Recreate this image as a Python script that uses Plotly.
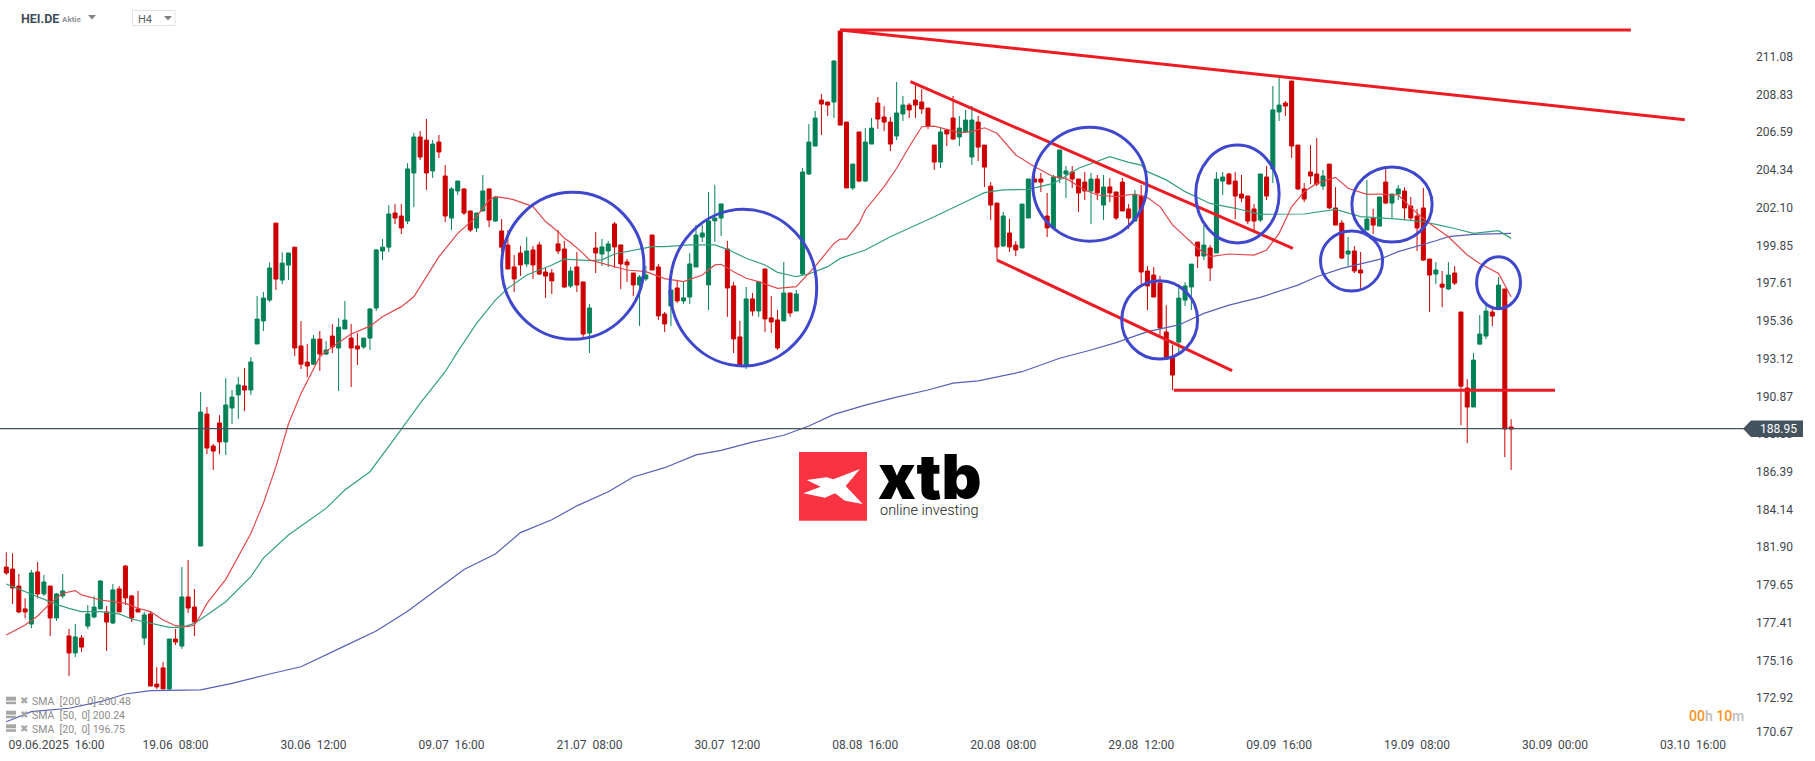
import plotly.graph_objects as go

# H4 candles
opens = [
    180.72,180.60,179.59,178.23,177.33,180.43,179.12,179.59,177.69,179.00,
    176.62,175.61,176.50,177.21,177.75,178.23,178.05,177.39,179.42,180.78,
    179.00,178.23,176.50,177.93,173.76,174.72,173.47,176.44,176.02,178.94,
    178.34,181.97,189.82,187.92,189.29,188.16,190.18,190.96,191.49,191.25,
    193.99,195.36,196.60,201.18,197.79,198.68,199.75,193.87,192.91,192.79,
    194.28,193.39,194.46,193.75,194.88,194.34,193.87,193.81,194.34,196.13,
    199.52,199.75,201.78,201.60,201.30,204.16,206.30,206.12,204.28,206.00,
    203.98,201.48,203.09,203.21,201.90,200.89,201.90,203.21,201.30,200.71,
    199.87,198.57,199.40,198.75,199.58,199.88,198.27,198.21,199.94,199.64,
    197.44,198.57,197.68,194.64,199.70,199.34,199.52,201.13,199.88,198.87,
    198.21,197.50,197.86,200.47,198.57,195.77,196.25,197.32,196.55,196.78,
    198.57,200.35,197.50,201.31,201.48,199.64,197.44,194.41,192.74,196.67,
    195.95,198.45,195.54,195.42,195.36,197.02,195.95,198.15,204.10,205.76,
    208.50,208.38,208.38,212.61,207.19,203.27,206.60,203.68,205.88,208.32,
    207.49,207.19,206.36,207.67,208.20,208.50,208.38,208.02,205.82,204.81,
    206.72,207.43,206.30,206.60,205.11,207.19,205.82,203.38,202.37,199.82,
    200.59,199.87,199.70,201.48,203.80,203.80,201.60,200.89,203.86,204.10,
    204.22,203.80,203.62,203.09,203.80,202.25,203.33,203.03,203.62,202.02,
    201.30,202.79,198.33,198.09,197.61,194.70,193.21,194.10,196.60,197.38,
    200.05,199.22,199.70,199.40,203.68,204.10,203.68,202.91,202.79,202.02,
    201.36,203.92,204.40,207.79,208.32,209.63,205.82,203.21,204.22,204.10,
    203.38,204.69,202.08,201.18,199.34,199.52,198.39,200.77,201.48,201.00,
    203.62,202.37,202.91,203.09,202.19,201.60,202.08,199.04,198.15,197.55,
    197.26,198.21,195.89,191.37,190.24,193.98,194.46,195.89,196.07,197.26,189.05,
]
highs = [
    181.60,181.54,180.31,178.86,180.55,181.02,180.25,179.59,179.18,180.31,
    177.04,177.33,176.68,178.46,179.00,179.95,178.40,179.71,179.59,180.84,
    179.06,179.30,178.05,178.05,174.77,175.07,176.44,177.04,180.72,181.14,
    179.42,191.13,190.24,188.04,189.76,191.96,191.25,192.02,192.56,193.21,
    196.84,197.08,198.84,201.18,199.44,199.40,199.75,195.35,193.98,194.52,
    194.76,194.16,195.17,195.53,196.54,195.17,194.64,194.34,196.13,199.64,
    200.23,202.25,202.31,202.31,204.75,206.54,206.66,207.37,206.12,206.42,
    204.63,203.32,203.68,203.26,201.90,201.78,204.04,203.26,202.73,201.42,
    200.77,199.28,199.82,200.35,199.82,200.06,198.51,198.45,200.77,200.12,
    198.57,199.46,197.68,196.37,200.65,200.24,200.12,201.25,199.88,199.05,
    198.21,198.09,198.63,200.47,198.75,195.89,197.20,197.80,197.68,199.40,
    201.07,201.07,203.03,203.45,202.32,200.12,197.68,195.36,197.38,197.02,
    197.74,198.45,196.84,196.01,198.87,197.02,197.20,204.46,207.07,207.85,
    208.86,208.38,210.88,212.61,207.19,204.69,206.60,206.83,207.43,208.68,
    208.14,207.49,209.57,208.74,208.32,209.39,209.15,208.02,205.82,206.83,
    206.72,208.74,207.55,207.91,208.14,207.55,205.82,203.62,202.37,201.84,
    201.42,200.11,202.31,203.80,204.57,204.16,202.97,204.04,205.53,204.57,
    204.57,203.80,204.22,204.16,204.04,204.04,203.86,203.03,203.86,202.31,
    203.15,203.44,198.63,198.57,198.03,196.30,193.93,197.55,197.67,198.74,
    200.05,201.06,199.87,204.22,204.22,204.16,204.22,204.04,202.79,202.31,
    204.10,204.57,209.33,209.81,208.44,209.63,205.82,203.56,205.82,206.24,
    204.34,204.69,203.32,201.36,200.35,199.81,199.46,203.74,202.02,202.73,
    204.40,202.91,203.44,203.32,202.73,202.02,203.27,199.04,198.86,198.33,
    198.86,198.62,195.89,191.90,193.45,195.71,196.30,196.07,197.97,197.26,189.52,
]
lows = [
    180.25,178.52,177.97,177.67,177.08,178.86,179.00,176.62,177.51,178.86,
    174.24,175.37,175.67,177.04,177.67,178.21,175.73,177.33,178.05,178.46,
    177.45,178.01,176.08,173.64,173.47,173.47,173.41,176.08,175.85,177.99,
    176.62,181.97,187.44,186.49,187.44,187.38,189.23,189.53,190.00,190.96,
    193.99,194.76,196.48,197.20,197.55,197.79,193.27,192.50,192.02,192.74,
    192.38,193.33,193.45,191.19,194.88,191.43,192.74,193.69,193.63,195.95,
    198.98,199.46,201.12,200.53,201.12,202.13,204.93,203.15,203.86,205.05,
    201.24,200.77,202.85,201.66,200.65,200.65,201.90,200.94,201.24,199.46,
    198.45,197.08,198.03,198.57,197.86,198.09,196.73,196.96,199.34,197.32,
    197.32,197.08,194.41,193.45,198.21,198.63,198.57,198.51,197.26,197.68,
    196.84,195.06,197.74,198.39,195.42,194.70,195.06,196.43,196.37,196.37,
    198.57,200.06,196.01,200.06,200.41,195.60,193.45,192.74,192.50,195.66,
    195.60,194.70,194.64,193.63,195.36,195.60,195.95,198.09,204.04,205.76,
    206.42,207.55,207.43,207.01,203.27,203.15,203.62,203.62,205.88,206.78,
    206.66,205.47,206.12,207.25,207.43,207.43,207.67,206.78,204.34,204.46,
    205.76,206.12,205.76,206.54,204.63,204.87,203.33,201.36,198.98,199.76,
    199.46,199.22,199.70,201.48,203.62,203.03,200.35,200.89,203.56,202.67,
    203.27,201.84,202.55,201.12,202.55,201.36,202.43,201.36,201.90,200.83,
    201.30,197.49,196.01,196.78,194.52,193.21,191.25,193.51,196.25,196.01,
    198.51,198.98,197.73,199.40,202.85,203.50,201.42,202.43,201.12,200.71,
    201.24,202.55,203.56,207.25,207.55,205.05,203.15,202.43,203.50,203.38,
    203.15,202.02,201.06,199.04,198.63,198.21,197.20,200.77,200.53,201.00,
    202.31,201.42,202.55,201.36,201.36,199.52,198.92,195.89,197.55,196.18,
    197.20,197.49,189.16,188.09,190.24,193.98,194.28,195.05,196.01,187.26,186.49,
]
closes = [
    180.37,179.47,178.05,178.05,180.37,179.12,179.83,177.69,179.12,179.30,
    175.61,176.56,175.96,177.93,178.34,179.89,177.45,179.36,178.05,178.88,
    177.69,178.05,177.87,173.64,173.59,173.47,176.44,176.26,178.94,178.28,
    177.45,189.94,187.80,187.62,188.16,190.36,190.83,191.55,191.25,192.92,
    195.47,196.72,198.51,197.85,198.80,199.40,193.75,192.79,192.68,194.28,
    193.39,193.63,193.81,194.99,195.41,193.75,193.69,194.34,196.07,199.58,
    199.75,201.72,201.48,200.89,204.40,206.30,205.11,204.16,205.88,205.41,
    201.60,203.21,203.68,201.78,200.77,201.78,203.09,201.36,202.73,199.75,
    198.45,197.86,198.69,199.52,198.69,198.15,198.03,197.74,199.52,197.38,
    198.33,197.50,194.58,196.13,199.40,199.76,199.94,199.76,198.75,198.69,
    197.50,197.97,198.09,198.39,195.66,195.18,197.20,196.55,196.73,198.75,
    200.47,200.59,201.31,201.48,202.32,197.32,194.29,192.74,196.67,195.95,
    197.68,195.48,195.30,193.75,197.02,195.83,196.96,204.22,206.00,207.43,
    208.26,208.20,210.82,207.01,203.27,204.69,203.68,206.00,206.83,207.37,
    207.19,205.88,207.73,208.20,207.91,208.20,207.97,206.95,204.81,206.60,
    206.48,206.18,206.83,207.31,207.31,205.70,204.51,202.25,199.76,201.60,
    199.76,199.58,202.31,203.80,203.62,203.62,200.89,203.92,205.53,204.28,
    203.80,202.97,203.09,203.80,202.97,203.33,202.97,201.48,201.90,201.48,
    202.85,198.27,197.44,196.78,194.94,193.21,192.14,196.72,197.44,198.74,
    199.22,199.87,198.51,203.80,203.92,203.50,202.79,202.67,201.30,201.30,
    204.10,202.79,207.91,208.20,208.14,205.76,203.21,202.61,203.98,203.50,
    203.98,202.08,201.06,199.10,199.52,198.33,198.21,201.42,201.06,202.73,
    202.37,202.91,203.21,202.08,201.48,200.89,198.98,198.09,198.39,197.37,
    198.09,197.61,191.48,190.24,193.03,194.58,195.95,195.65,197.49,188.93,188.93,
]
candle_idx = list(range(len(opens)))

# moving averages, read at a sparse set of candles
sma20_idx = [
    0,1,3,5,7,9,11,12,15,17,19,21,23,25,27,29,30,31,32,35,37,39,41,43,45,47,50,52,55,58,
    60,63,65,67,69,72,75,77,78,80,81,84,86,88,89,90,92,93,96,99,102,105,108,111,113,114,
    116,118,120,123,126,129,132,133,134,136,137,140,142,144,146,148,152,154,156,158,161,
    164,167,169,172,174,177,180,182,184,186,188,190,192,195,199,201,203,205,207,209,212,
    214,217,219,222,225,227,230,233,235,238,240,
]
sma20_val = [
    176.68,176.88,177.27,177.81,178.56,179.16,179.32,179.06,178.76,178.66,
    178.56,178.27,178.07,177.57,177.23,177.17,177.27,177.87,178.56,179.99,
    181.34,182.72,184.51,186.69,189.23,191.05,193.23,193.83,194.58,195.05,
    195.61,196.21,196.80,197.99,199.18,200.57,201.56,202.55,202.75,202.65,
    202.56,202.16,201.27,200.67,200.28,200.02,199.38,198.99,198.69,198.39,
    198.29,197.88,197.70,198.09,198.69,198.73,198.29,197.90,197.70,197.30,
    197.40,198.60,199.97,200.23,200.23,201.16,201.96,203.35,204.44,205.72,
    206.91,206.95,206.56,206.62,206.85,206.52,205.23,204.53,203.94,203.84,
    203.15,202.85,202.75,202.91,202.70,202.16,201.07,200.37,199.68,199.18,
    199.34,199.28,199.58,200.57,202.15,203.05,203.54,203.90,203.25,202.89,
    202.91,202.85,201.76,201.16,200.37,199.28,198.78,198.19,196.80,
]
sma50_idx = [
    0,4,8,10,12,15,18,20,24,26,28,30,32,35,39,41,45,51,54,58,62,66,70,72,75,78,80,83,87,89,
    93,95,97,100,103,105,109,113,115,118,121,123,126,128,131,133,137,141,144,148,153,156,
    159,163,167,171,176,179,181,182,185,188,192,196,200,207,212,216,222,226,228,231,234,238,240,
]
sma50_val = [
    179.71,179.12,178.50,178.26,178.07,178.07,177.93,177.63,177.30,177.13,
    177.13,177.37,177.87,178.66,180.15,181.25,182.63,184.21,185.30,186.39,
    188.40,190.45,192.34,193.53,195.21,196.60,197.30,198.09,198.69,199.03,
    198.95,198.99,199.34,199.58,199.78,199.78,199.88,199.88,199.62,199.09,
    198.69,198.25,197.99,198.15,198.59,199.08,199.58,200.37,200.87,201.56,
    202.45,202.99,203.15,203.19,203.54,204.44,205.13,204.79,204.63,204.24,
    203.75,203.05,202.35,202.06,201.70,201.72,202.00,201.56,201.42,201.26,
    201.10,200.86,200.57,200.73,200.27,
]
sma200_idx = [
    0,4,10,15,19,23,31,36,42,47,54,59,64,69,73,78,82,87,91,96,100,105,110,114,119,124,128,132,
    137,142,147,151,155,162,168,173,177,182,187,191,195,200,206,209,213,219,222,228,230,234,240,
]
sma200_val = [
    171.52,172.12,172.32,172.71,173.17,173.37,173.41,173.80,174.36,174.79,
    176.03,176.92,178.09,179.47,180.57,181.50,182.77,183.53,184.36,185.20,
    186.08,186.63,187.39,187.66,188.15,188.56,189.11,189.80,190.35,190.83,
    191.25,191.66,191.79,192.34,193.14,193.63,194.07,194.72,195.12,195.81,
    196.30,196.76,197.49,197.99,198.49,199.02,199.48,200.13,200.37,200.51,200.57,
]

# hand drawn analysis on the chart: [x0, x1], [y0, y1]
trend_x = [[133, 259.1], [133, 267.7], [144.2, 205.2], [158, 195.5], [186.2, 247]]
trend_y = [[212.67, 212.67], [212.67, 207.33], [209.59, 199.68], [198.98, 192.40], [191.23, 191.23]]
circle_x0 = [79.0, 105.85, 163.7, 189.7, 177.9, 209.6, 214.6, 234.5]
circle_x1 = [101.7, 129.25, 181.9, 203.0, 190.0, 219.5, 227.4, 241.5]
circle_y0 = [194.27, 192.68, 200.10, 200.00, 193.09, 197.14, 200.05, 196.09]
circle_y1 = [203.01, 202.00, 206.88, 205.82, 197.75, 200.71, 204.52, 199.18]

last_price = 188.95
y_ticks = [211.08, 208.83, 206.59, 204.34, 202.10, 199.85, 197.61, 195.36, 193.12,
           190.87, 188.63, 186.39, 184.14, 181.90, 179.65, 177.41, 175.16, 172.92]
x_tick_idx = [8, 27, 49, 71, 93, 115, 137, 159, 181, 203, 225, 247, 269]
x_tick_text = ["09.06.2025  16:00", "19.06  08:00", "30.06  12:00", "09.07  16:00", "21.07  08:00",
               "30.07  12:00", "08.08  16:00", "20.08  08:00", "29.08  12:00", "09.09  16:00",
               "19.09  08:00", "30.09  00:00", "03.10  16:00"]
legend_text = ["SMA  [200,  0] 200.48", "SMA  [50,  0] 200.24", "SMA  [20,  0] 196.75"]

RED = "#cd0000"
GREEN = "#028158"
SLATE = "#44535e"
TEXT = "#3f474e"
DRAW_RED = "#ed1c24"
DRAW_BLUE = "#3f48cc"
WIDTH, HEIGHT = 1815, 761
PLOT_W, PLOT_H = 1750, 736


def px(x):
    return x / PLOT_W


def py(y):
    return (PLOT_H - y) / PLOT_H


def path(points):
    return "M" + "L".join(f"{px(x):.5f},{py(y):.5f}" for x, y in points) + "Z"


def paper_shape(points, color, layer="above"):
    return dict(type="path", xref="paper", yref="paper", path=path(points),
                fillcolor=color, line={"width": 0}, layer=layer)


def label(x, y, text, size=12, color=TEXT, anchor="left", family="Roboto", weight=None):
    return dict(xref="paper", yref="paper", x=px(x), y=py(y), text=text, showarrow=False,
                xanchor=anchor, yanchor="middle", borderpad=0,
                font={"family": family, "size": size, "color": color, "weight": weight})


fig = go.Figure()
fig.add_trace(go.Candlestick(
    x=candle_idx, open=opens, high=highs, low=lows, close=closes,
    increasing={"line": {"color": GREEN, "width": 1}, "fillcolor": GREEN},
    decreasing={"line": {"color": RED, "width": 1}, "fillcolor": RED},
    showlegend=False,
))
for xs, ys, col in [(sma200_idx, sma200_val, "#5660b8"), (sma50_idx, sma50_val, "#35a07f"),
                    (sma20_idx, sma20_val, "#e2474b")]:
    fig.add_trace(go.Scatter(x=xs, y=ys, mode="lines", line={"color": col, "width": 1.2}, showlegend=False))
for xs, ys in zip(trend_x, trend_y):
    fig.add_trace(go.Scatter(x=xs, y=ys, mode="lines", line={"color": DRAW_RED, "width": 3}, showlegend=False))

shapes = []
# last price line and its tag
shapes.append(dict(type="line", xref="paper", yref="y", x0=0, x1=px(1744), y0=last_price, y1=last_price,
                   line={"color": SLATE, "width": 1.2}, layer="above"))
shapes.append(paper_shape([(1743, 428.7), (1751, 420.5), (1803, 420.5), (1803, 437), (1751, 437)], SLATE))
for x0, x1, y0, y1 in zip(circle_x0, circle_x1, circle_y0, circle_y1):
    shapes.append(dict(type="circle", xref="x", yref="y", x0=x0, x1=x1, y0=y0, y1=y1,
                       line={"color": DRAW_BLUE, "width": 3}, layer="above"))

# xtb logo
shapes.append(dict(type="rect", xref="paper", yref="paper", x0=px(799), x1=px(867), y0=py(520.7), y1=py(452),
                   fillcolor="#fa3342", line={"width": 0}, layer="below"))
logo_x = [(80, 150), (140, 142), (160, 148), (240, 117), (197, 168), (248, 222), (195, 212), (165, 190),
          (135, 203), (70, 190), (122, 170)]
shapes.append(paper_shape([(780 + a / 3, 430 + b / 3) for a, b in logo_x], "#ffffff"))

# header dropdown arrows and H4 box
shapes.append(paper_shape([(88, 15), (96, 15), (92, 19.5)], "#7d8488"))
shapes.append(dict(type="rect", xref="paper", yref="paper", x0=px(132.5), x1=px(175), y0=py(25.5), y1=py(10.5),
                   line={"color": "#dfe3e6", "width": 1}))
shapes.append(paper_shape([(164, 16), (172, 16), (168, 20.5)], "#7d8488"))

annotations = [
    label(20, 18.7, "<b>HEI.DE</b>", size=12.5, color="#3e4c57"),
    label(61, 19.5, "<b>Aktie</b>", size=8, color="#8f9599"),
    label(137, 19.5, "H4", size=11, color="#56636d"),
    label(1778, 429, f"{last_price:.2f}", color="#ffffff", anchor="center"),
    label(1755, 731.7, "170.67"),
    label(877, 476, "xtb", size=62, color="#000000", family="Inter", weight=900),
    label(879, 510, "online investing", size=14.5, color="#1a1a1a", family="Roboto", weight=300),
    label(1688, 716, '<span style="color:#f7931e">00</span>h <span style="color:#f7931e">10</span>m',
          size=14, color="#bdbdbd", weight=500),
]
# indicator legend, bottom left
for row, text in zip([701.7, 715.7, 729.3], legend_text):
    annotations.append(label(31, row, text, size=10.5, color="#8c8c8c"))
    annotations.append(label(19, row - 1, "✖", size=10, color="#a6a6a6", family="DejaVu Sans"))
    shapes.append(paper_shape([(6, row - 5), (16, row - 5), (16, row - 1), (6, row - 1)], "#a6a6a6"))
    shapes.append(paper_shape([(6, row), (16, row), (16, row + 2.5), (6, row + 2.5)], "#a6a6a6"))

fig.update_layout(
    width=WIDTH,
    height=HEIGHT,
    margin={"l": 0, "r": WIDTH - PLOT_W, "t": 0, "b": HEIGHT - PLOT_H, "pad": 0},
    paper_bgcolor="#ffffff",
    plot_bgcolor="#ffffff",
    showlegend=False,
    boxgap=0.2,
    boxgroupgap=0.2,
    shapes=shapes,
    annotations=annotations,
    font={"family": "Roboto", "size": 12, "color": TEXT},
    xaxis={
        "range": [-1.005, 278.1],
        "rangeslider": {"visible": False},
        "tickmode": "array",
        "tickvals": x_tick_idx,
        "ticktext": x_tick_text,
        "showgrid": False,
        "zeroline": False,
        "showline": False,
        "ticks": "",
    },
    yaxis={
        "range": [170.67, 214.45],
        "side": "right",
        "tickmode": "array",
        "tickvals": y_ticks,
        "ticktext": [f"{v:.2f}" for v in y_ticks],
        "showgrid": False,
        "zeroline": False,
        "showline": False,
        "ticks": "",
        "ticklabelstandoff": 5,
    },
)

fig.write_html("out.html", post_script="document.body.style.margin='0';document.body.style.overflow='hidden';",
               config={"displayModeBar": False})
